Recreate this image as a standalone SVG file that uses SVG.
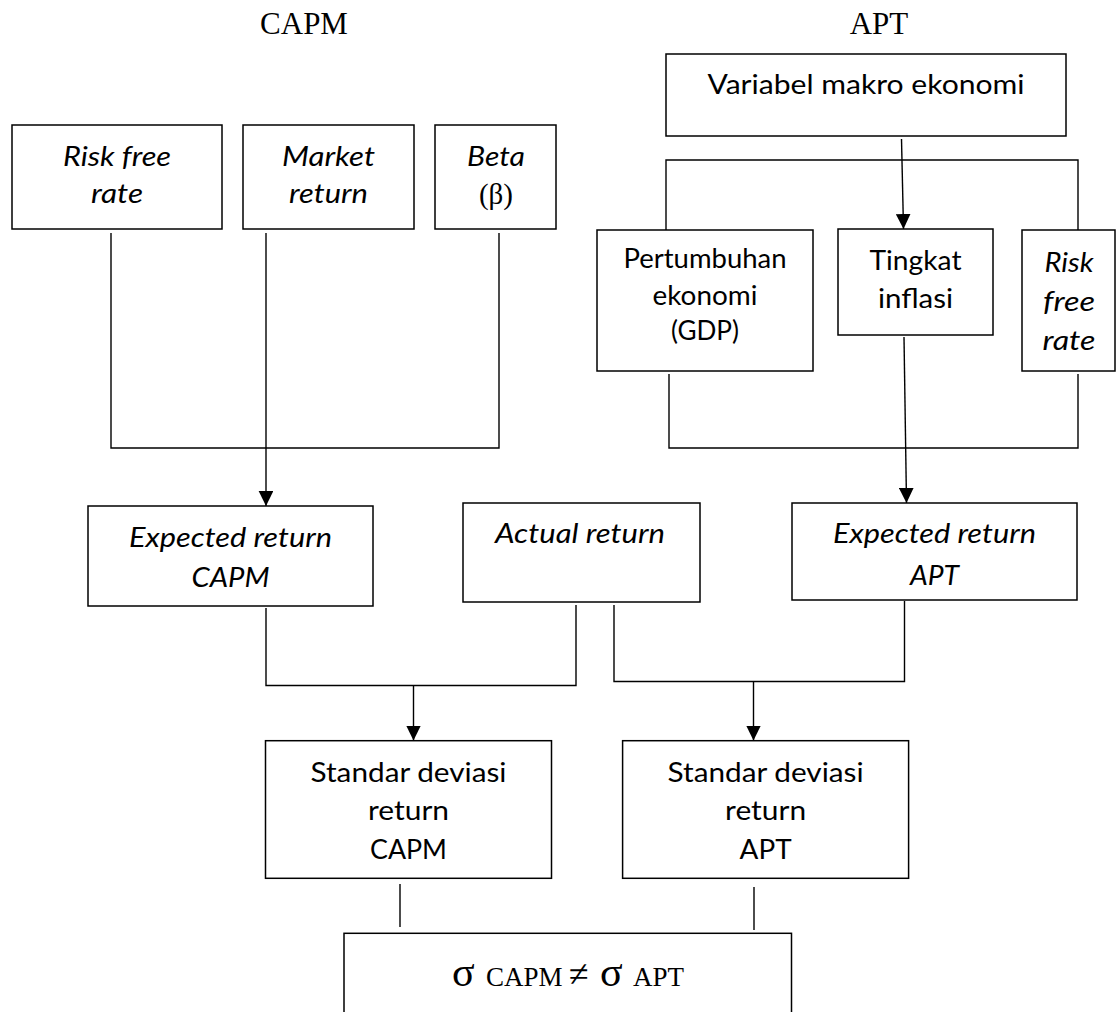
<svg xmlns="http://www.w3.org/2000/svg" width="1116" height="1012" viewBox="0 0 1116 1012">
<style>
  .box { fill: #ffffff; stroke: #000000; stroke-width: 1.5; }
  .ln { fill: none; stroke: #000000; stroke-width: 1.4; }
  .t { font-family: Lato, "Open Sans", "Liberation Sans", sans-serif; font-size: 27px; fill: #000000; text-anchor: middle; }
  .i { font-style: italic; }
  .serif { font-family: "Liberation Serif", "Times New Roman", serif; font-size: 31px; fill: #000000; text-anchor: middle; }
</style>
<defs>
  <marker id="arr" markerUnits="userSpaceOnUse" markerWidth="15" markerHeight="15" refX="15" refY="7.35" orient="auto">
    <path d="M0,0 L15,7.35 L0,14.7 z" fill="#000000"/>
  </marker>
</defs>
<rect width="1116" height="1012" fill="#ffffff"/>

<g id="titles">
  <text class="serif" x="304" y="34">CAPM</text>
  <text class="serif" x="879" y="34">APT</text>
</g>

<g id="connectors">
  <path class="ln" d="M111,233 V448 H499 V233"/>
  <path class="ln" d="M266,233 V506" marker-end="url(#arr)"/>
  <path class="ln" d="M666,230 V160 H1078 V230"/>
  <path class="ln" d="M901.5,139 L903.5,229" marker-end="url(#arr)"/>
  <path class="ln" d="M669,374 V448 H1078 V374"/>
  <path class="ln" d="M904,337 L906.5,503" marker-end="url(#arr)"/>
  <path class="ln" d="M266,608 V685.5 H576 V605"/>
  <path class="ln" d="M413.5,686 V740.5" marker-end="url(#arr)"/>
  <path class="ln" d="M614,605 V681.5 H904.5 V601"/>
  <path class="ln" d="M753.5,682 V740.5" marker-end="url(#arr)"/>
  <path class="ln" d="M400,884 V927"/>
  <path class="ln" d="M754,887 V930"/>
</g>

<g id="risk-free-capm">
  <rect class="box" x="12" y="125" width="210" height="104"/>
  <text class="t i" x="117" y="166" textLength="108" lengthAdjust="spacingAndGlyphs">Risk free</text>
  <text class="t i" x="117" y="203" textLength="52" lengthAdjust="spacingAndGlyphs">rate</text>
</g>

<g id="market-return">
  <rect class="box" x="243" y="125" width="171" height="104"/>
  <text class="t i" x="328.5" y="166" textLength="93" lengthAdjust="spacingAndGlyphs">Market</text>
  <text class="t i" x="328.5" y="203" textLength="79" lengthAdjust="spacingAndGlyphs">return</text>
</g>

<g id="beta">
  <rect class="box" x="435" y="125" width="121" height="104"/>
  <text class="t i" x="496" y="166" textLength="58" lengthAdjust="spacingAndGlyphs">Beta</text>
  <text class="serif" x="496" y="204" style="font-size:29px">(β)</text>
</g>

<g id="variabel-makro">
  <rect class="box" x="666" y="54" width="400" height="82"/>
  <text class="t" x="866" y="94" textLength="317" lengthAdjust="spacingAndGlyphs">Variabel makro ekonomi</text>
</g>

<g id="pertumbuhan">
  <rect class="box" x="597" y="230" width="216" height="141"/>
  <text class="t" x="705" y="268" textLength="163" lengthAdjust="spacingAndGlyphs">Pertumbuhan</text>
  <text class="t" x="705" y="305" textLength="105" lengthAdjust="spacingAndGlyphs">ekonomi</text>
  <text class="t" x="705" y="340" textLength="68" lengthAdjust="spacingAndGlyphs">(GDP)</text>
</g>

<g id="tingkat-inflasi">
  <rect class="box" x="838" y="229" width="155" height="106"/>
  <text class="t" x="915.5" y="270" textLength="92" lengthAdjust="spacingAndGlyphs">Tingkat</text>
  <text class="t" x="915.5" y="308" textLength="75" lengthAdjust="spacingAndGlyphs">inflasi</text>
</g>

<g id="risk-free-apt">
  <rect class="box" x="1022" y="230" width="93" height="141"/>
  <text class="t i" x="1069" y="272" textLength="49" lengthAdjust="spacingAndGlyphs">Risk</text>
  <text class="t i" x="1069" y="311" textLength="52" lengthAdjust="spacingAndGlyphs">free</text>
  <text class="t i" x="1069" y="350" textLength="53" lengthAdjust="spacingAndGlyphs">rate</text>
</g>

<g id="expected-capm">
  <rect class="box" x="88" y="506" width="285" height="100"/>
  <text class="t i" x="230.5" y="547" textLength="203" lengthAdjust="spacingAndGlyphs">Expected return</text>
  <text class="t i" x="230.5" y="587" textLength="78" lengthAdjust="spacingAndGlyphs">CAPM</text>
</g>

<g id="actual-return">
  <rect class="box" x="463" y="503" width="237" height="99"/>
  <text class="t i" x="580" y="543" textLength="170" lengthAdjust="spacingAndGlyphs">Actual return</text>
</g>

<g id="expected-apt">
  <rect class="box" x="792" y="503" width="285" height="97"/>
  <text class="t i" x="934.5" y="543" textLength="203" lengthAdjust="spacingAndGlyphs">Expected return</text>
  <text class="t i" x="934.5" y="585" textLength="49" lengthAdjust="spacingAndGlyphs">APT</text>
</g>

<g id="std-capm">
  <rect class="box" x="265.5" y="740.7" width="286" height="137.6"/>
  <text class="t" x="408.5" y="782" textLength="196" lengthAdjust="spacingAndGlyphs">Standar deviasi</text>
  <text class="t" x="408.5" y="820" textLength="81" lengthAdjust="spacingAndGlyphs">return</text>
  <text class="t" x="408.5" y="859" textLength="77" lengthAdjust="spacingAndGlyphs">CAPM</text>
</g>

<g id="std-apt">
  <rect class="box" x="622.6" y="740.7" width="286" height="137.6"/>
  <text class="t" x="765.6" y="782" textLength="196" lengthAdjust="spacingAndGlyphs">Standar deviasi</text>
  <text class="t" x="765.6" y="820" textLength="81" lengthAdjust="spacingAndGlyphs">return</text>
  <text class="t" x="765.6" y="859" textLength="52" lengthAdjust="spacingAndGlyphs">APT</text>
</g>

<g id="sigma-compare">
  <rect class="box" x="344" y="933.3" width="447.5" height="100"/>
  <text style="font-family:'Liberation Serif','Times New Roman',serif; font-size:27px; fill:#000000" y="986"><tspan x="452" style="font-size:42px">σ</tspan><tspan x="486">CAPM</tspan><tspan x="569" style="font-size:36px">≠</tspan><tspan x="600" style="font-size:42px">σ</tspan><tspan x="633">APT</tspan></text>
</g>
</svg>
